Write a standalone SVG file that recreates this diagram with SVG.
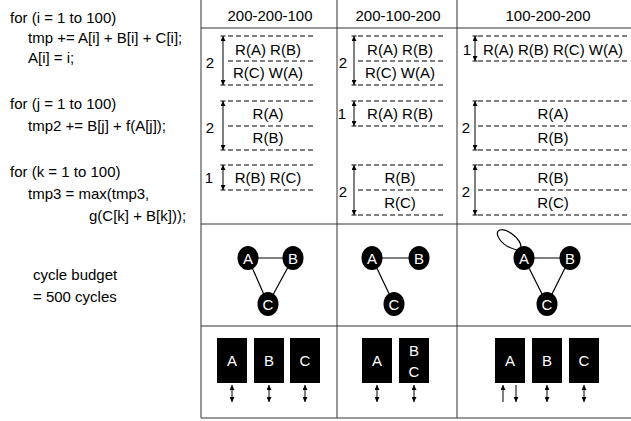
<svg xmlns="http://www.w3.org/2000/svg" width="631" height="421" viewBox="0 0 631 421">
<style>
.t{font-family:"Liberation Sans",Arial,sans-serif;font-size:15px;fill:#000}
.c{text-anchor:middle}
.w{fill:#fff;text-anchor:middle}
.d{stroke:#000;stroke-width:1;stroke-dasharray:5,3;fill:none}
.g{stroke:#333;stroke-width:1;fill:none}
.e{stroke:#000;stroke-width:1.2;fill:none}
.k{stroke:#000;stroke-width:1;fill:none}
.a{stroke:#000;stroke-width:1;fill:none;marker-start:url(#ah);marker-end:url(#ah)}
.a1{stroke:#000;stroke-width:1;fill:none;marker-end:url(#ah)}
</style>
<defs>
<marker id="ah" viewBox="0 0 8 8" refX="8" refY="4" markerWidth="6" markerHeight="5" markerUnits="userSpaceOnUse" orient="auto-start-reverse"><path d="M0,0 L8,4 L0,8 z" fill="#000"/></marker>
</defs>
<rect width="631" height="421" fill="#fff"/>

<g id="code" class="t">
<text x="10" y="23">for (i = 1 to 100)</text>
<text x="28" y="43">tmp += A[i] + B[i] + C[i];</text>
<text x="28" y="63">A[i] = i;</text>
<text x="10" y="109">for (j = 1 to 100)</text>
<text x="28" y="131">tmp2 += B[j] + f(A[j]);</text>
<text x="10" y="177">for (k = 1 to 100)</text>
<text x="28" y="199">tmp3 = max(tmp3,</text>
<text x="89" y="221">g(C[k] + B[k]));</text>
<text x="33" y="280">cycle budget</text>
<text x="33" y="302">= 500 cycles</text>
</g>

<g id="table">
<line class="g" x1="201" y1="0" x2="201" y2="418" stroke-width="2"/>
<line class="g" x1="337" y1="0" x2="337" y2="418"/>
<line class="g" x1="457" y1="0" x2="457" y2="418"/>
<line class="g" x1="201" y1="28" x2="631" y2="28" stroke-width="1.5"/>
<line class="g" x1="201" y1="224" x2="631" y2="224"/>
<line class="g" x1="201" y1="326" x2="631" y2="326"/>
<line class="g" x1="201" y1="418" x2="631" y2="418"/>
<g class="t c">
<text x="270" y="21">200-200-100</text>
<text x="398" y="21">200-100-200</text>
<text x="548" y="21">100-200-200</text>
</g>
</g>

<g id="col1-sched">
<path class="d" d="M228,36H315M228,61H315M228,85H315M228,101H315M228,126H315M228,150H315M228,165H315M228,190H315"/>
<g class="t c">
<text x="268" y="55">R(A) R(B)</text>
<text x="268" y="78">R(C) W(A)</text>
<text x="268" y="119">R(A)</text>
<text x="268" y="143">R(B)</text>
<text x="268" y="183">R(B) R(C)</text>
<text x="210" y="68">2</text>
<text x="210" y="133">2</text>
<text x="209" y="183">1</text>
</g>
</g>

<g id="col2-sched">
<path class="d" d="M358,36H445M358,61H445M358,85H445M358,101H445M358,126H445M358,165H445M358,190H445M358,215H445"/>
<g class="t c">
<text x="400" y="55">R(A) R(B)</text>
<text x="400" y="78">R(C) W(A)</text>
<text x="400" y="119">R(A) R(B)</text>
<text x="400" y="183">R(B)</text>
<text x="400" y="208">R(C)</text>
<text x="343" y="68">2</text>
<text x="342" y="119">1</text>
<text x="343" y="197">2</text>
</g>
</g>

<g id="col3-sched">
<path class="d" d="M478,36H627M478,61H627M478,101H627M478,126H627M478,150H627M478,165H627M478,190H627M478,215H627"/>
<g class="t c">
<text x="553" y="55">R(A) R(B) R(C) W(A)</text>
<text x="553" y="119">R(A)</text>
<text x="553" y="143">R(B)</text>
<text x="553" y="183">R(B)</text>
<text x="553" y="208">R(C)</text>
<text x="467" y="55">1</text>
<text x="466" y="133">2</text>
<text x="466" y="197">2</text>
</g>
</g>

<g id="dimensions">
<line class="a" x1="223" y1="36" x2="223" y2="85"/>
<line class="a" x1="223" y1="101" x2="223" y2="150"/>
<line class="a" x1="223" y1="165" x2="223" y2="190"/>
<line class="a" x1="354" y1="36" x2="354" y2="85"/>
<line class="a" x1="354" y1="101" x2="354" y2="126"/>
<line class="a" x1="354" y1="165" x2="354" y2="215"/>
<line class="a" x1="475" y1="36" x2="475" y2="61"/>
<line class="a" x1="475" y1="101" x2="475" y2="150"/>
<line class="a" x1="475" y1="165" x2="475" y2="215"/>
<path class="k" d="M220.5,36h5M220.5,85h5M220.5,101h5M220.5,150h5M220.5,165h5M220.5,190h5M351.5,36h5M351.5,85h5M351.5,101h5M351.5,126h5M351.5,165h5M351.5,215h5M472.5,36h5M472.5,61h5M472.5,101h5M472.5,150h5M472.5,165h5M472.5,215h5"/>
</g>

<g id="connectors">
<path class="e" d="M248,258H293M248,258L268,304M293,258L268,304"/>
<path class="e" d="M372,258H419M372,258L394,304"/>
<path class="e" d="M524,258H570M524,258L547,304M570,258L547,304"/>
<path class="e" d="M517,250C500,246 493,232 500,230C507,228 521,239 521,247"/>
<line class="a" x1="232" y1="385" x2="232" y2="402"/>
<line class="a" x1="269" y1="385" x2="269" y2="402"/>
<line class="a" x1="305" y1="385" x2="305" y2="402"/>
<line class="a" x1="377" y1="385" x2="377" y2="402"/>
<line class="a" x1="414" y1="385" x2="414" y2="402"/>
<line class="a1" x1="503" y1="402" x2="503" y2="385"/>
<line class="a1" x1="516" y1="385" x2="516" y2="402"/>
<line class="a" x1="547" y1="385" x2="547" y2="402"/>
<line class="a" x1="584" y1="385" x2="584" y2="402"/>
</g>

<g id="g1-A"><ellipse cx="248" cy="258" rx="10.5" ry="12"/><text class="t w" x="248" y="263.5" style="fill:#fff">A</text></g>
<g id="g1-B"><ellipse cx="293" cy="258" rx="10.5" ry="12"/><text class="t w" x="293" y="263.5" style="fill:#fff">B</text></g>
<g id="g1-C"><ellipse cx="268" cy="304" rx="10.5" ry="12"/><text class="t w" x="268" y="309.5" style="fill:#fff">C</text></g>
<g id="g2-A"><ellipse cx="372" cy="258" rx="10.5" ry="12"/><text class="t w" x="372" y="263.5" style="fill:#fff">A</text></g>
<g id="g2-B"><ellipse cx="419" cy="258" rx="10.5" ry="12"/><text class="t w" x="419" y="263.5" style="fill:#fff">B</text></g>
<g id="g2-C"><ellipse cx="394" cy="304" rx="10.5" ry="12"/><text class="t w" x="394" y="309.5" style="fill:#fff">C</text></g>
<g id="g3-A"><ellipse cx="524" cy="258" rx="10.5" ry="12"/><text class="t w" x="524" y="263.5" style="fill:#fff">A</text></g>
<g id="g3-B"><ellipse cx="570" cy="258" rx="10.5" ry="12"/><text class="t w" x="570" y="263.5" style="fill:#fff">B</text></g>
<g id="g3-C"><ellipse cx="547" cy="304" rx="10.5" ry="12"/><text class="t w" x="547" y="309.5" style="fill:#fff">C</text></g>

<g id="m1-A"><rect x="217" y="338" width="30" height="45"/><text class="t w" x="232" y="366" style="fill:#fff">A</text></g>
<g id="m1-B"><rect x="254" y="338" width="30" height="45"/><text class="t w" x="269" y="366" style="fill:#fff">B</text></g>
<g id="m1-C"><rect x="290" y="338" width="30" height="45"/><text class="t w" x="305" y="366" style="fill:#fff">C</text></g>
<g id="m2-A"><rect x="362" y="338" width="30" height="45"/><text class="t w" x="377" y="366" style="fill:#fff">A</text></g>
<g id="m2-BC"><rect x="399" y="338" width="30" height="45"/><text class="t w" x="414" y="356" style="fill:#fff">B</text><text class="t w" x="414" y="377" style="fill:#fff">C</text></g>
<g id="m3-A"><rect x="495" y="338" width="30" height="45"/><text class="t w" x="510" y="366" style="fill:#fff">A</text></g>
<g id="m3-B"><rect x="532" y="338" width="30" height="45"/><text class="t w" x="547" y="366" style="fill:#fff">B</text></g>
<g id="m3-C"><rect x="569" y="338" width="30" height="45"/><text class="t w" x="584" y="366" style="fill:#fff">C</text></g>
</svg>
